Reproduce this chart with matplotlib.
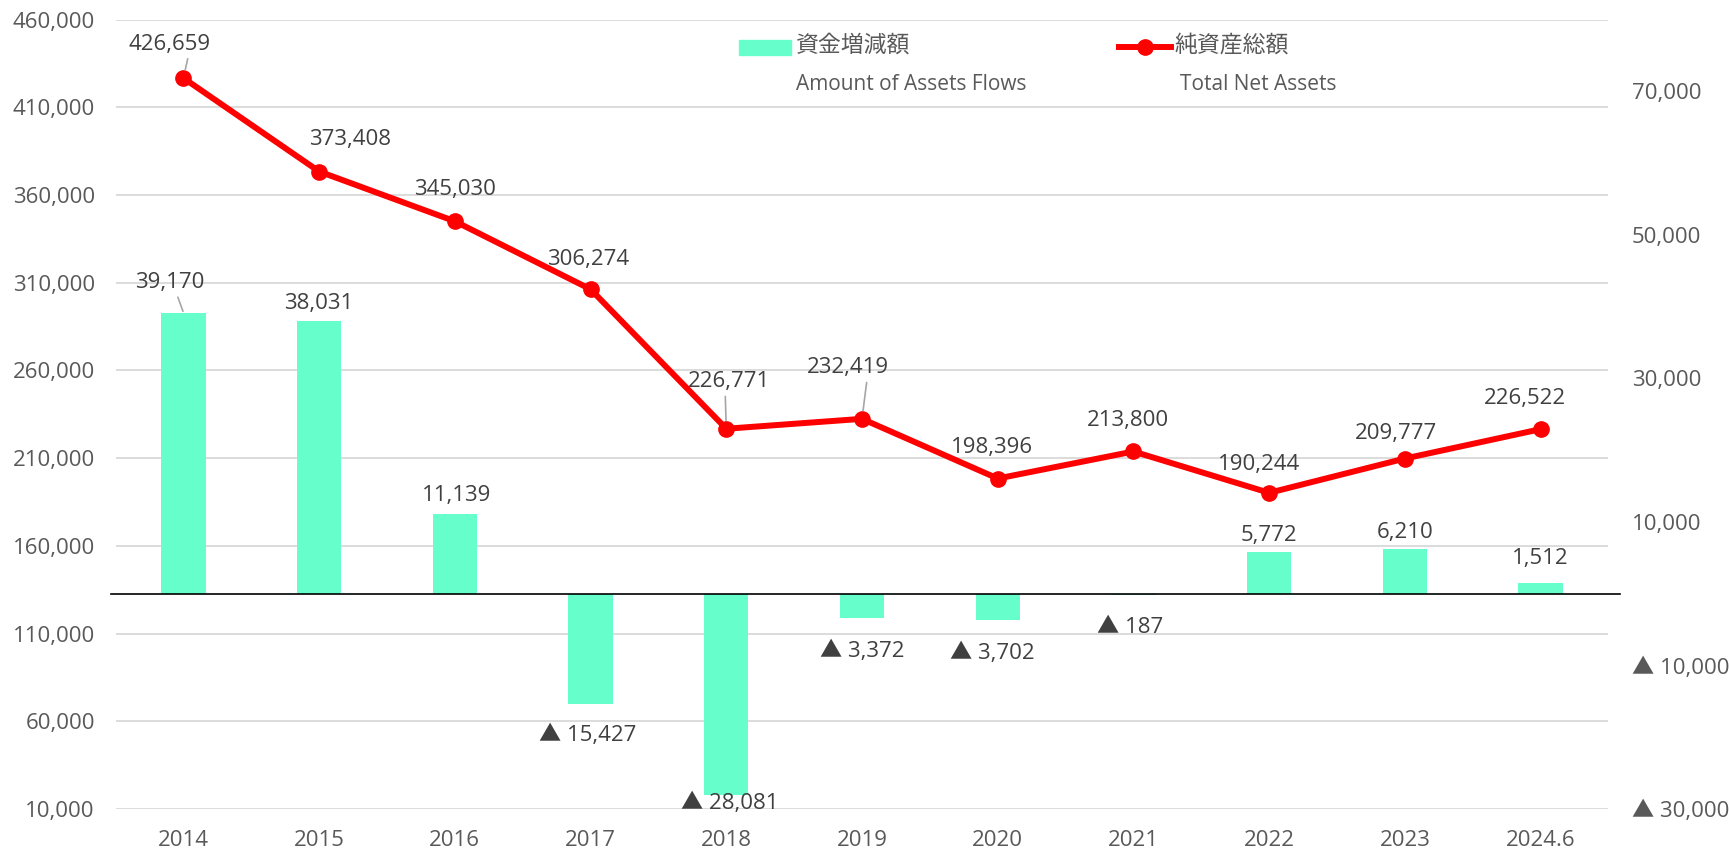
import matplotlib.pyplot as plt
import matplotlib.patches as mpatches
from matplotlib.lines import Line2D
from matplotlib.ticker import FuncFormatter

years = ['2014', '2015', '2016', '2017', '2018', '2019',
         '2020', '2021', '2022', '2023', '2024.6']
net_assets = [426659, 373408, 345030, 306274, 226771, 232419,
              198396, 213800, 190244, 209777, 226522]
flows = [39170, 38031, 11139, -15427, -28081, -3372,
         -3702, -187, 5772, 6210, 1512]
left_ticks = [10000, 60000, 110000, 160000, 210000, 260000, 310000, 360000, 410000, 460000]
right_ticks = [-30000, -10000, 10000, 30000, 50000, 70000]

# label offsets in pixels (dx, dy)
line_offsets = [(-14, 34), (31, 32), (0, 32), (-2, 30), (3, 47), (-14, 51),
                (-6, 31), (-5, 31), (-10, 28), (-9, 25), (-16, 31)]
line_leaders = [0, 4, 5]
bar_offsets = [(-14, 30), (0, 17), (2, 18), (-3, -31), (3, -8), (0, -33),
               (-5, -33), (-3, -32), (0, 17), (0, 17), (0, 24)]
bar_leaders = [0]

BAR = '#66FFCC'
RED = '#FF0000'
TXT = '#404040'
AX_TXT = '#595959'
FS = 16

plt.rcParams['font.family'] = ['Open Sans', 'Noto Sans CJK JP', 'DejaVu Sans']


def fmt_signed(v):
    return ('▲ ' if v < 0 else '') + f'{abs(int(v)):,}'


W, H = 1729, 849
fig = plt.figure(figsize=(W / 100, H / 100), dpi=100)
left, right, top, bottom = 115.6, 1608.4, 19.6, 809
ax = fig.add_axes([left / W, 1 - bottom / H, (right - left) / W, (bottom - top) / H])

x = list(range(len(years)))

# primary axis: grid + left labels
ax.set_xlim(-0.5, len(years) - 0.5)
ax.set_ylim(10000, 460000)
ax.set_yticks(left_ticks)
ax.yaxis.set_major_formatter(FuncFormatter(lambda v, p: f'{int(v):,}'))
ax.grid(axis='y', color='#D9D9D9', linewidth=1.3)
ax.set_axisbelow(True)
ax.set_xticks(x)
ax.set_xticklabels(years)
ax.tick_params(axis='x', length=0, pad=15, labelsize=FS, labelcolor=AX_TXT)
ax.tick_params(axis='y', length=0, pad=15, labelsize=FS, labelcolor=AX_TXT)
for s in ax.spines.values():
    s.set_visible(False)

# secondary axis: bars
ax2 = ax.twinx()
ax2.set_ylim(-30000, 80000)
ax2.set_yticks(right_ticks)
ax2.yaxis.set_major_formatter(FuncFormatter(lambda v, p: fmt_signed(v)))
ax2.tick_params(axis='y', length=0, pad=17, labelsize=FS, labelcolor=AX_TXT)
for s in ax2.spines.values():
    s.set_visible(False)
ax2.bar(x, flows, width=0.326, color=BAR, zorder=2)
ax2.plot([-0.003, 1.008], [0, 0], color='black', linewidth=1.2,
         transform=ax2.get_yaxis_transform(), clip_on=False, zorder=3)

for i, v in enumerate(flows):
    dx, dy = bar_offsets[i]
    kw = {}
    if i in bar_leaders:
        kw['arrowprops'] = dict(arrowstyle='-', color='#A6A6A6', lw=1.2,
                                shrinkA=1, shrinkB=1, relpos=(0.6, 0))
    ax2.annotate(fmt_signed(v), (i, v), xytext=(dx, dy), textcoords='offset pixels',
                 ha='center', va='center', fontsize=FS, color=TXT, **kw)

# third axis for the line, drawn on top
ax3 = ax.twinx()
ax3.set_ylim(ax.get_ylim())
ax3.set_yticks([])
for s in ax3.spines.values():
    s.set_visible(False)
ax3.plot(x, net_assets, color=RED, linewidth=4.3, marker='o', markersize=11,
         solid_capstyle='round')

for i, v in enumerate(net_assets):
    dx, dy = line_offsets[i]
    kw = {}
    if i in line_leaders:
        kw['arrowprops'] = dict(arrowstyle='-', color='#A6A6A6', lw=1.2,
                                shrinkA=1, shrinkB=6, relpos=(0.5 + dx / -60.0, 0))
    ax3.annotate(f'{v:,}', (i, v), xytext=(dx, dy), textcoords='offset pixels',
                 ha='center', va='center', fontsize=FS, color=TXT, **kw)

# legend drawn by hand
fig.add_artist(mpatches.Rectangle((739 / W, 1 - 55 / H), 52 / W, 15 / H,
                                  transform=fig.transFigure, color=BAR))
fig.text(796 / W, 1 - 46 / H, '資金増減額', fontsize=16.5, color=AX_TXT, va='center')
fig.text(796 / W, 1 - 85 / H, 'Amount of Assets Flows', fontsize=15, color=AX_TXT, va='center')
fig.add_artist(Line2D([1119 / W, 1171 / W], [1 - 47 / H, 1 - 47 / H],
                      transform=fig.transFigure, color=RED, linewidth=4.3))
fig.add_artist(Line2D([1145 / W], [1 - 47 / H], transform=fig.transFigure,
                      color=RED, marker='o', markersize=11, linestyle='none'))
fig.text(1174 / W, 1 - 46 / H, '純資産総額', fontsize=16.5, color=AX_TXT, va='center')
fig.text(1180 / W, 1 - 85 / H, 'Total Net Assets', fontsize=15, color=AX_TXT, va='center')

fig.savefig('out.png', dpi=100)
